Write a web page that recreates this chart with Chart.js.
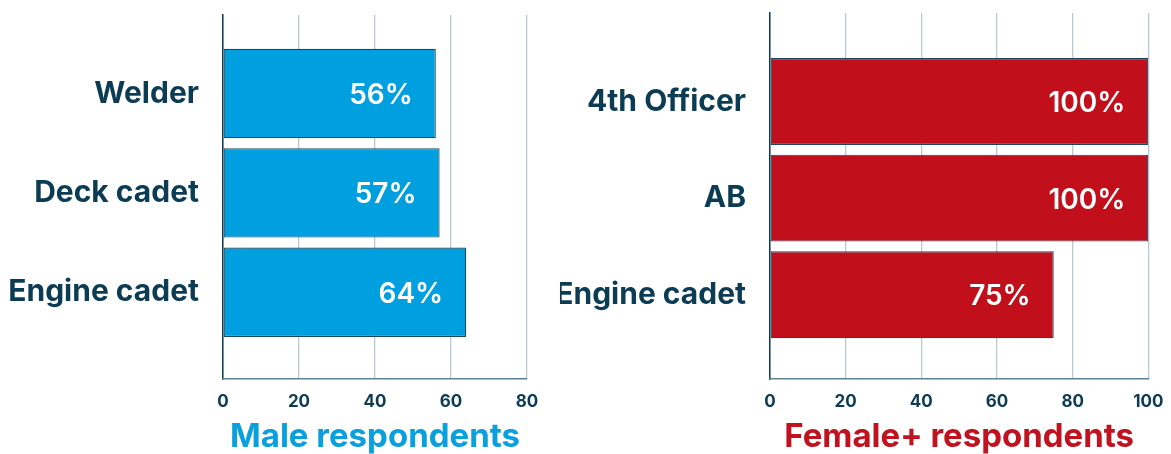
<!DOCTYPE html>
<html>
<head>
<meta charset="utf-8">
<script src="https://cdn.jsdelivr.net/npm/chart.js@4/dist/chart.umd.min.js"></script>
<style>
  html, body { margin: 0; padding: 0; background: #ffffff; }
  #wrap { position: relative; width: 1171px; height: 454px; }
  #left { position: absolute; left: 0; top: 0; }
  #right { position: absolute; left: 560px; top: 0; }
</style>
</head>
<body>
<div id="wrap">
  <canvas id="left" width="560" height="454"></canvas>
  <canvas id="right" width="611" height="454"></canvas>
</div>
<script>
// ---- data ----
const maleCategories = ['Welder', 'Deck cadet', 'Engine cadet'];
const maleValues = [56, 57, 64];
const maleTitle = 'Male respondents';
const maleTicks = [0, 20, 40, 60, 80];

const femaleCategories = ['4th Officer', 'AB', 'Engine cadet'];
const femaleValues = [100, 100, 75];
const femaleTitle = 'Female+ respondents';
const femaleTicks = [0, 20, 40, 60, 80, 100];

// ---- styles ----
const FONT = 'Inter, "Open Sans", "DejaVu Sans", sans-serif';
const DARK = '#0b3c54';
const GRID = '#bac8d4';

const valueLabels = {
  id: 'valueLabels',
  afterDatasetsDraw(chart) {
    const ctx = chart.ctx;
    const meta = chart.getDatasetMeta(0);
    const vals = chart.data.datasets[0].data;
    ctx.save();
    ctx.fillStyle = '#ffffff';
    ctx.font = '600 28px ' + FONT;
    ctx.textAlign = 'right';
    ctx.textBaseline = 'middle';
    meta.data.forEach((bar, i) => {
      ctx.fillText(vals[i].x + '%', bar.x - 23, bar.y + 2);
    });
    ctx.restore();
  }
};

function makeChart(id, cats, vals, ticks, title, barColor, titleColor, opts) {
  const data = vals.map((v, i) => ({ x: v, y: i }));
  return new Chart(document.getElementById(id), {
    type: 'bar',
    data: {
      datasets: [{
        data: data,
        backgroundColor: barColor,
        borderColor: '#1d475c',
        borderWidth: 1.2,
        borderSkipped: false,
        barPercentage: 0.9,
        categoryPercentage: 1.0
      }]
    },
    options: {
      indexAxis: 'y',
      responsive: false,
      animation: false,
      devicePixelRatio: 1,
      layout: { padding: { left: 0, right: opts.padRight, top: opts.padTop, bottom: 0 } },
      plugins: { legend: { display: false }, tooltip: { enabled: false } },
      scales: {
        y: {
          type: 'linear',
          reverse: true,
          offset: false,
          min: opts.yMin,
          max: opts.yMax,
          afterFit: (s) => { s.width = opts.yWidth; s.paddingTop = 0; s.paddingBottom = 0; },
          grid: { display: false, drawTicks: false },
          border: { display: true, color: DARK, width: 1.5 },
          ticks: {
            stepSize: 1,
            includeBounds: false,
            padding: 24,
            color: DARK,
            font: { family: FONT, size: 30, weight: '700' },
            callback: (v) => (Number.isInteger(v) && cats[v] !== undefined) ? cats[v] : ''
          }
        },
        x: {
          type: 'linear',
          min: ticks[0],
          max: ticks[ticks.length - 1],
          afterFit: (s) => { s.height = 75; s.paddingLeft = 0; s.paddingRight = 0; },
          grid: { color: GRID, lineWidth: 1.3, drawTicks: false },
          border: { display: true, color: '#5f8094', width: 1.5 },
          ticks: {
            stepSize: ticks[1] - ticks[0],
            padding: 13,
            color: DARK,
            font: { family: FONT, size: 17, weight: '700' }
          },
          title: {
            display: true,
            text: title,
            color: titleColor,
            font: { family: FONT, size: 33, weight: '700', lineHeight: 1 },
            padding: { top: 6, bottom: 0 }
          }
        }
      }
    },
    plugins: [valueLabels]
  });
}

makeChart('left', maleCategories, maleValues, maleTicks, maleTitle, '#009fdf', '#0a9fdd',
  { padRight: 33, padTop: 15, yWidth: 223, yMin: -0.79, yMax: 2.873 });
makeChart('right', femaleCategories, femaleValues, femaleTicks, femaleTitle, '#c20f1c', '#c1121f',
  { padRight: 22.7, padTop: 13, yWidth: 210, yMin: -0.917, yMax: 2.873 });
</script>
</body>
</html>
